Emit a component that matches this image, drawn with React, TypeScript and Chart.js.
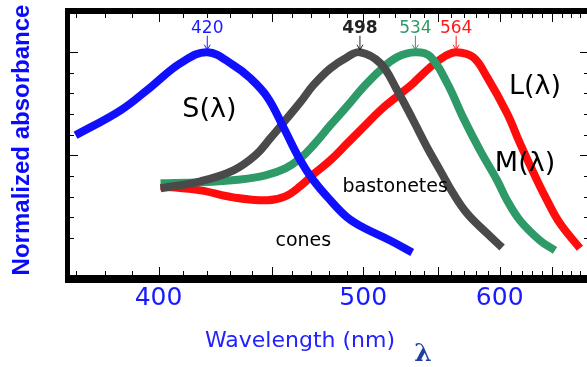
import React, { useEffect, useRef } from 'react';
import { Chart, registerables } from 'chart.js';

Chart.register(...registerables);

// ---- axis ranges (wavelength axis is linear in 1/λ) ----
const X_MIN_NM = 367.5;
const X_MAX_NM = 691.5;
const Y_MIN = -0.1;
const Y_MAX = 1.2;
const xTickLabels = [400, 500, 600];
const yMinorTicks = [0.1, 0.2, 0.3, 0.4, 0.5, 0.6, 0.7, 0.8, 0.9, 1.0];
const yMajorTicks = [0.5, 1.0];

// ---- S cones (blue) ----
const sNm = [370, 385.7, 396.9, 408.8, 420, 431.6, 439.4, 447.6, 455.6, 464.3, 471.3, 480.7, 490.4, 500, 517, 531.8];
const sVal = [0.597, 0.718, 0.83, 0.947, 1.0, 0.937, 0.874, 0.782, 0.636, 0.476, 0.379, 0.282, 0.199, 0.15, 0.087, 0.029];

// ---- rods (bastonetes, dark gray) ----
const rNm = [400.8, 417.1, 431.6, 441.8, 449.1, 456.6, 464.3, 471.3, 480.7, 490.4, 498, 510.6, 521.6, 532.5, 542.3, 551.8, 561.6, 572.6, 589.1, 602.1];
const rVal = [0.34, 0.374, 0.427, 0.5, 0.583, 0.67, 0.757, 0.84, 0.922, 0.976, 1.0, 0.947, 0.816, 0.67, 0.539, 0.427, 0.316, 0.218, 0.121, 0.053];

// ---- M cones (green) ----
const mNm = [400.8, 417.1, 434.8, 446.6, 456.6, 464.3, 471.3, 480.7, 490.4, 500, 510.6, 521.6, 534, 544.5, 557.1, 569.4, 583.2, 597.7, 606.5, 618.4, 637.6, 652.9];
const mVal = [0.364, 0.369, 0.383, 0.403, 0.437, 0.485, 0.549, 0.646, 0.738, 0.83, 0.913, 0.976, 1.0, 0.98, 0.85, 0.684, 0.524, 0.379, 0.282, 0.184, 0.087, 0.039];

// ---- L cones (red) ----
const lNm = [400.8, 417.1, 431.6, 447.6, 456.6, 464.3, 471.3, 480.7, 490.4, 500, 510.6, 521.6, 532.5, 544.5, 555.6, 564, 577.5, 589.1, 606.5, 618.4, 634.7, 644.7, 658.1, 679.9];
const lVal = [0.35, 0.33, 0.296, 0.282, 0.301, 0.35, 0.408, 0.476, 0.558, 0.636, 0.718, 0.786, 0.85, 0.927, 0.981, 1.0, 0.976, 0.879, 0.704, 0.558, 0.379, 0.282, 0.17, 0.049];

// ---- peak annotations ----
const peakNm = [420, 498, 534, 564];
const peakText = ['420', '498', '534', '564'];
const peakColor = ['#1a1aff', '#222222', '#2e9a68', '#ff1a1a'];
const peakBold = [false, true, false, false];

// ---- in-plot labels (data coordinates) ----
const labelText = ['S(λ)', 'L(λ)', 'M(λ)', 'bastonetes', 'cones'];
const labelNm = [420.9, 632.7, 623.1, 520.3, 465.9];
const labelVal = [0.72, 0.83, 0.46, 0.345, 0.083];
const labelSize = [27, 27, 27, 19, 19];

const toX = (nm: number) => 1e4 / nm;
const pts = (nm: number[], v: number[]) => nm.map((n, i) => ({ x: toX(n), y: v[i] }));

const framePlugin = {
  id: 'frameAndNotes',
  afterDatasetsDraw(chart: any) {
    const { ctx, chartArea: a, scales } = chart;
    const x = scales.x;
    const y = scales.y;
    ctx.save();
    // frame
    ctx.fillStyle = '#000';
    const L = a.left - 3;
    ctx.fillRect(L, a.top - 3, 5, a.bottom - a.top + 7);
    ctx.fillRect(L, a.top - 3, a.right - L + 3, 6);
    ctx.fillRect(L, a.bottom - 4, a.right - L + 3, 8);
    ctx.fillRect(a.right - 2, a.top - 3, 5, a.bottom - a.top + 7);
    // inward ticks
    ctx.strokeStyle = '#000';
    ctx.lineWidth = 1;
    ctx.beginPath();
    for (let nm = 370; nm <= 690; nm += 10) {
      const px = Math.round(x.getPixelForValue(toX(nm))) + 0.5;
      const len = nm % 50 === 0 ? 8 : 4;
      ctx.moveTo(px, a.top + 3);
      ctx.lineTo(px, a.top + 3 + len);
      ctx.moveTo(px, a.bottom - 4);
      ctx.lineTo(px, a.bottom - 4 - len);
    }
    yMinorTicks.forEach((v) => {
      const py = Math.round(y.getPixelForValue(v)) + 0.5;
      const len = yMajorTicks.includes(v) ? 8 : 4;
      ctx.moveTo(L + 5, py);
      ctx.lineTo(L + 5 + len, py);
      ctx.moveTo(a.right - 2, py);
      ctx.lineTo(a.right - 2 - len, py);
    });
    ctx.stroke();

    // peak labels with arrows
    ctx.textAlign = 'center';
    ctx.textBaseline = 'middle';
    peakNm.forEach((nm, i) => {
      const px = x.getPixelForValue(toX(nm));
      ctx.fillStyle = peakColor[i];
      ctx.strokeStyle = peakColor[i];
      ctx.font = (peakBold[i] ? 'bold ' : '') + '17px "DejaVu Sans"';
      ctx.fillText(peakText[i], px, y.getPixelForValue(1.115));
      const y0 = y.getPixelForValue(1.08);
      const y1 = y.getPixelForValue(1.012);
      ctx.lineWidth = 1;
      ctx.beginPath();
      ctx.moveTo(px, y0);
      ctx.lineTo(px, y1);
      ctx.moveTo(px - 3, y1 - 5);
      ctx.lineTo(px, y1);
      ctx.lineTo(px + 3, y1 - 5);
      ctx.stroke();
    });

    // in-plot labels
    ctx.fillStyle = '#000';
    labelText.forEach((t, i) => {
      ctx.font = labelSize[i] + 'px "DejaVu Sans"';
      ctx.fillText(t, x.getPixelForValue(toX(labelNm[i])), y.getPixelForValue(labelVal[i]));
    });

    // x-axis title and lambda symbol
    ctx.fillStyle = '#2222ff';
    ctx.font = '22px "DejaVu Sans"';
    ctx.fillText('Wavelength (nm)', a.left + 232, a.bottom + 62);
    ctx.fillStyle = '#1f3f9f';
    ctx.font = 'bold 25px "DejaVu Serif"';
    ctx.fillText('λ', a.left + 355, a.bottom + 75);

    // y-axis title
    ctx.save();
    ctx.translate(22, (a.top + a.bottom) / 2 - 5);
    ctx.rotate(-Math.PI / 2);
    ctx.fillStyle = '#0a0aff';
    ctx.font = 'bold 24px "Liberation Sans", Arial';
    ctx.fillText('Normalized absorbance', 0, 0);
    ctx.restore();
    ctx.restore();
  },
};

export default function App() {
  const ref = useRef<HTMLCanvasElement | null>(null);
  useEffect(() => {
    if (!ref.current) return;
    const line = (data: any, color: string) => ({
      data,
      borderColor: color,
      backgroundColor: color,
      borderWidth: 8,
      pointRadius: 0,
      tension: 0.4,
      fill: false,
      borderCapStyle: 'butt',
      borderJoinStyle: 'round',
    });
    const chart = new Chart(ref.current, {
      type: 'line',
      data: {
        datasets: [
          line(pts(sNm, sVal), '#1010ff'),
          line(pts(rNm, rVal), '#4a4a4a'),
          line(pts(mNm, mVal), '#2e9a68'),
          line(pts(lNm, lVal), '#ff0d0d'),
        ] as any,
      },
      options: {
        responsive: false,
        animation: false,
        devicePixelRatio: 1,
        layout: { padding: { top: 11, right: 7, left: 0, bottom: 0 } },
        plugins: { legend: { display: false }, tooltip: { enabled: false } },
        scales: {
          x: {
            type: 'linear',
            reverse: true,
            min: toX(X_MAX_NM),
            max: toX(X_MIN_NM),
            afterBuildTicks: (axis: any) => {
              axis.ticks = xTickLabels.map((v) => ({ value: toX(v) }));
            },
            afterFit: (s: any) => {
              s.height = 88;
            },
            grid: { display: false, drawTicks: false },
            border: { display: false },
            ticks: {
              color: '#1a1aff',
              padding: 4,
              maxRotation: 0,
              autoSkip: false,
              font: { family: '"DejaVu Sans"', size: 25 },
              callback: (v: any) => String(Math.round(1e4 / Number(v))),
            },
          },
          y: {
            type: 'linear',
            min: Y_MIN,
            max: Y_MAX,
            afterFit: (s: any) => {
              s.width = 68;
            },
            grid: { display: false, drawTicks: false },
            border: { display: false },
            ticks: { display: false },
          },
        },
      } as any,
      plugins: [framePlugin],
    });
    return () => chart.destroy();
  }, []);
  return (
    <div
      style={{
        position: 'fixed',
        left: 0,
        top: 0,
        width: 587,
        height: 367,
        overflow: 'hidden',
        background: '#fff',
      }}
    >
      <canvas ref={ref} width={597} height={367} style={{ width: 597, height: 367, display: 'block' }} />
    </div>
  );
}
